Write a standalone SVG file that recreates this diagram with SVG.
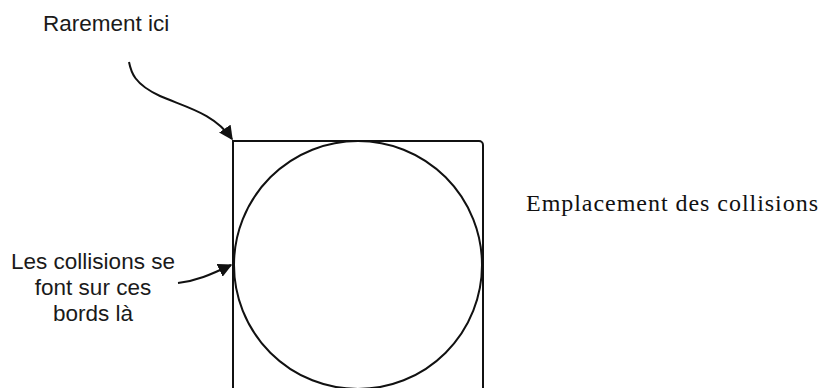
<svg xmlns="http://www.w3.org/2000/svg" width="822" height="388" viewBox="0 0 822 388">
<style>
.lbl{font-family:"Liberation Sans",Arial,sans-serif;font-size:22.5px;fill:#1a1a1a}
.ser{font-family:"Liberation Serif","Times New Roman",serif;font-size:24px;fill:#111}
.shape{fill:none;stroke:#111;stroke-width:2}
.conn{fill:none;stroke:#111;stroke-width:2}
</style>
<defs>
<marker id="ah" viewBox="0 0 10 10" refX="9" refY="5" markerWidth="7" markerHeight="7" orient="auto" markerUnits="strokeWidth">
<path d="M0,0 L10,5 L0,10 z" fill="#111"/>
</marker>
</defs>
<rect width="822" height="388" fill="#fff"/>
<g id="box">
<path class="shape" d="M233,393 V141 H479 A4,4 0 0 1 483,145 V393"/>
</g>
<g id="circle">
<circle class="shape" cx="358" cy="265" r="124"/>
</g>
<g id="label-rarement">
<text class="lbl" x="43" y="31">Rarement ici</text>
</g>
<g id="label-collisions">
<text class="lbl" x="93" y="269" text-anchor="middle">Les collisions se</text>
<text class="lbl" x="93" y="295" text-anchor="middle">font sur ces</text>
<text class="lbl" x="93" y="321" text-anchor="middle">bords là</text>
</g>
<g id="title">
<text class="ser" x="526" y="211" textLength="292" lengthAdjust="spacing">Emplacement des collisions</text>
</g>
<g id="connectors">
<path class="conn" d="M129,62 C131,72 134,84 160,96 C185,107 214,113 232,139" marker-end="url(#ah)"/>
<path class="conn" d="M178,283 C196,281 210,275 231,265" marker-end="url(#ah)"/>
</g>
</svg>
